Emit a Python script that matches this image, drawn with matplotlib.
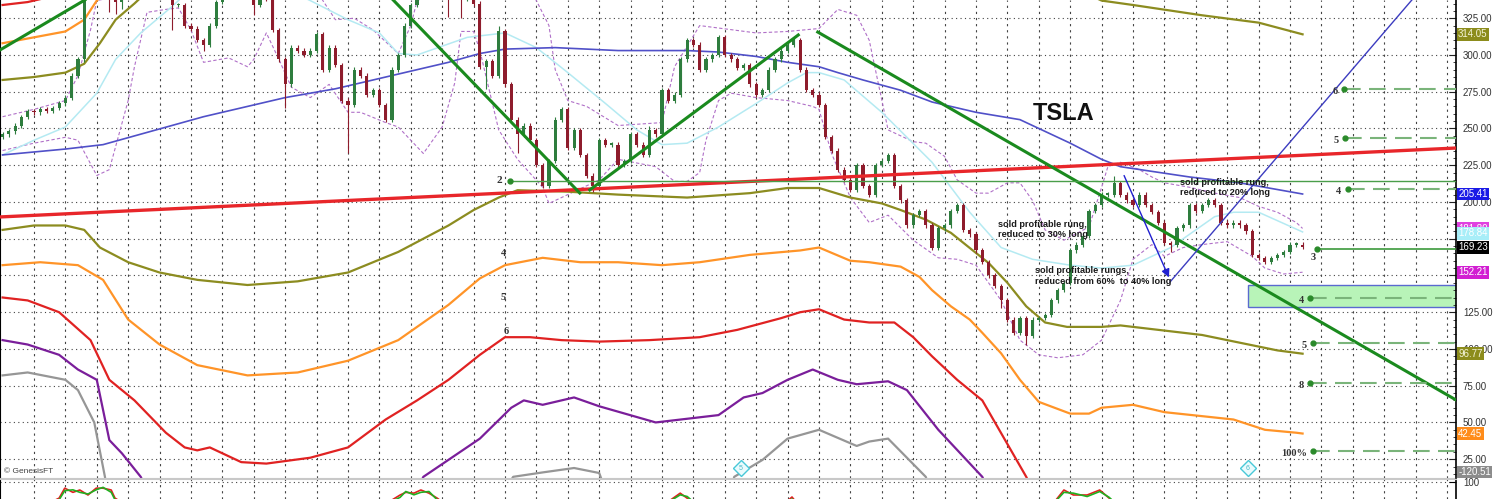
import matplotlib
matplotlib.use('Agg')
import matplotlib.pyplot as plt
import matplotlib.transforms as mtransforms
from matplotlib.patches import Rectangle
import numpy as np

plt.rcParams['font.family'] = ['Liberation Sans', 'DejaVu Sans']

# daily closes (bar index 0 .. 207)
closes = [
    246, 248, 252, 258, 262, 261, 263, 262, 264, 267,
    271, 286, 297, 342, 348, 352, 346, 338, 336, 340,
    345, 350, 352, 348, 350, 346, 342, 334, 334, 320,
    318, 310, 307, 320, 336, 342, 345, 347, 344, 346,
    334, 340, 338, 317, 297, 280, 305, 303, 300, 303,
    314, 290, 305, 293, 269, 266, 290, 286, 273, 276,
    266, 256, 290, 300, 320, 334, 342, 348, 352, 350,
    345, 340, 342, 338, 340, 335, 292, 296, 286, 316,
    280, 256, 246, 252, 242, 225, 211, 228, 256, 263,
    237, 249, 232, 218, 211, 242, 239, 239, 225, 228,
    246, 239, 232, 249, 246, 276, 269, 273, 297, 310,
    307, 290, 297, 300, 312, 300, 297, 291, 293, 280,
    273, 276, 290, 297, 303, 307, 310, 290, 276, 273,
    266, 244, 235, 222, 215, 208, 225, 211, 205, 225,
    228, 232, 211, 201, 184, 191, 194, 184, 169, 182,
    184, 194, 198, 181, 178, 167, 159, 150, 143, 133,
    120, 111, 121, 109, 120, 121, 123, 133, 140, 145,
    167, 171, 177, 194, 198, 205, 205, 213, 205, 201,
    198, 205, 198, 193, 186, 172, 171, 182, 184, 198,
    194, 198, 201, 198, 186, 184, 186, 184, 180, 164,
    162, 159, 162, 164, 166, 171, 171, 169.23,
]
first_open = 244
long_lows = {17: 329, 18: 328, 19: 331, 27: 317, 32: 303, 40: 327, 45: 264,
             55: 233, 71: 326, 73: 325, 77: 277, 82: 233, 94: 207, 159: 128,
             163: 103, 186: 166}
long_highs = {79: 320, 103: 252, 177: 218}

# indicator curves: (bar, value)
blue_ma = [(0, 232), (5, 234), (10, 236), (16, 239), (32, 258), (45, 271), (53, 277), (66, 290),
           (71, 295), (76, 301), (80, 304), (88, 305), (98, 303), (109, 303), (114, 302), (120, 299),
           (125, 295), (130, 292), (133, 288), (137, 283), (143, 276), (148, 268), (155, 261),
           (162, 256), (170, 240), (175, 229), (178, 224), (189, 217), (197, 213), (207, 205.41)]
cyan_ma = [(0, 232), (5, 242), (10, 251), (15, 274), (18, 297), (22, 315), (27, 333), (29, 341),
           (38, 352), (47, 341), (49, 337), (55, 324), (60, 315), (63, 301), (66, 300), (74, 312),
           (80, 315), (85, 305), (90, 288), (96, 267), (101, 249), (105, 239), (109, 240), (114, 251),
           (120, 267), (125, 281), (128, 288), (130, 288), (134, 283), (140, 261), (148, 227),
           (154, 193), (159, 169), (164, 161), (170, 157), (175, 155), (180, 157), (186, 169),
           (193, 190), (196, 193), (200, 193), (207, 179.6)]
upper_bb = [(0, 258), (5, 263), (10, 269), (12, 286), (14, 317), (15, 337), (30, 350), (50, 344),
            (51, 337), (53, 324), (56, 325), (59, 317), (63, 301), (65, 320), (66, 337), (75, 350),
            (84, 344), (85, 337), (87, 320), (88, 290), (90, 269), (93, 265), (98, 252), (105, 254),
            (107, 292), (111, 320), (120, 315), (125, 316), (130, 318), (133, 331), (136, 327),
            (138, 310), (141, 249), (145, 241), (147, 240), (150, 231), (152, 215), (155, 206),
            (157, 206), (160, 213), (162, 213), (164, 201), (166, 181), (169, 174), (173, 183),
            (175, 210), (176, 224), (178, 227), (181, 222), (183, 217), (185, 213), (189, 210),
            (193, 206), (197, 203), (200, 197), (203, 193), (206, 186), (207, 182)]
lower_bb = [(0, 235), (5, 240), (10, 244), (12, 242), (15, 218), (17, 222), (20, 269), (21, 292),
            (23, 329), (26, 331), (28, 332), (30, 317), (32, 295), (36, 298), (39, 292), (40, 297),
            (42, 315), (44, 297), (46, 278), (49, 271), (52, 280), (55, 261), (57, 261), (61, 254),
            (63, 251), (65, 242), (67, 233), (70, 251), (72, 281), (73, 316), (75, 316), (76, 303),
            (79, 249), (82, 229), (86, 210), (87, 199), (89, 203), (95, 215), (98, 229), (104, 224),
            (107, 214), (109, 214), (111, 220), (112, 242), (114, 269), (116, 274), (120, 271),
            (125, 269), (129, 265), (130, 263), (132, 233), (135, 203), (138, 186), (141, 191),
            (145, 174), (149, 162), (152, 161), (155, 157), (159, 133), (162, 106), (165, 96),
            (168, 94), (172, 96), (175, 106), (178, 133), (180, 161), (183, 171), (185, 163),
            (188, 169), (191, 171), (195, 173), (199, 163), (201, 155), (204, 151), (207, 152.21)]
olive_up_l = [(0, 283), (5, 285), (10, 288), (13, 294), (15.5, 308), (18, 324), (21, 335), (23, 343)]
olive_up_r = [(173, 341), (175, 337), (180, 334), (191, 327), (200, 322), (207, 314.05)]
olive_lo = [(0, 181), (5, 184), (10, 184), (13, 181), (15.5, 169), (20, 159), (25, 152), (31, 147),
            (39, 143.5), (47, 146), (55, 152), (63, 166), (71, 184), (75, 194.5), (79, 203), (82, 208),
            (90, 207), (98, 205), (109, 203), (119, 206), (125, 209.5), (130, 209.5), (135, 203),
            (140, 199), (143, 194.5), (147, 188), (151, 179), (154.5, 167), (157, 158.5), (160, 145),
            (163, 129), (166, 118), (169.5, 115), (175, 115), (178, 116), (191, 109.5), (203, 99),
            (207, 96.77)]
orange_up = [(0, 308), (5, 312), (10, 316), (13, 324), (15, 337), (16, 341)]
orange_lo = [(0, 157), (6, 159), (12, 157), (16, 147), (20, 120), (25, 103), (31, 89), (39, 82),
             (47, 84), (55, 92), (63, 106), (71, 130), (76, 148), (80, 157), (86, 162), (92, 159),
             (98, 159), (105, 157), (111, 159), (119, 164), (127, 167), (130, 169), (135, 160),
             (138, 159), (143, 156), (146, 149), (148, 140), (151, 129), (154, 120), (156, 111),
             (159, 97), (162, 79), (165, 64), (170, 56), (173, 56), (175, 60), (180, 62), (185, 57),
             (196, 52), (201, 45), (206, 43), (207, 42.45)]
red_up = [(0, 334), (4, 336), (8, 340)]
red_lo = [(0, 135), (4, 133), (9, 125), (14, 106), (17, 79), (21, 65), (26, 43), (29, 33), (31, 31),
          (33, 33), (38, 23), (42, 22), (49, 26), (55, 33), (61, 52), (66, 65), (71, 79), (76, 96),
          (80, 108), (84, 108), (89, 106), (95, 105), (103, 106), (111, 108), (117, 113), (124, 121),
          (127, 125), (130, 127), (134, 120), (138, 118), (142, 118), (145, 108), (148, 95), (152, 79),
          (156, 65), (163, 13), (164, 4)]
purple_l = [(0, 106), (4, 103), (9, 96), (12, 86), (15, 79), (17, 38), (19, 29), (22, 13), (23, 4)]
purple_r = [(66, 4), (67, 13), (76, 39), (81, 60), (83, 65), (86, 62), (89, 65), (91, 67), (95, 61),
            (104, 50), (114, 55), (118, 67), (121, 70), (125, 79), (129, 86), (133, 79), (136, 76),
            (141, 78), (144, 72), (149, 45), (156, 13), (157, 4)]
gray_l = [(0, 82), (4, 84), (10, 79), (12, 72), (14.6, 50), (16.3, 13), (16.6, 4)]
gray_s = [(80, 4), (81.3, 13), (86, 16), (91, 19), (95, 15.6), (96, 4)]
gray_b = [(116, 4), (116.5, 13), (121, 24.5), (125, 39), (130, 45), (136, 34), (138, 37), (141, 39),
          (147, 13), (147.7, 4)]

# drawn trend lines
red_trend = [(-0.41, 189.8), (231.43, 236.7)]
green_trends = [[(-0.41, 303.4), (13.1, 337.4)],
                [(62.2, 337.4), (91.9, 206.1)],
                [(93.5, 208.2), (126.7, 313.6)],
                [(129.8, 315.6), (231.43, 65.3)]]
support_2 = (80.8, 214.3)
blue_arrow = [(178.4, 219.7), (185.9, 146.9)]
blue_up = [(185.9, 145.6), (224.4, 337.4)]

# profit-taking rungs
rung_labels = ['6', '5', '4', '3', '4', '5', '8', '100%']
rung_x = [213.6, 213.8, 214.2, 209.3, 208.2, 208.7, 208.2, 208.7]
rung_v = [276.9, 243.5, 208.8, 168.0, 134.7, 104.0, 76.9, 30.6]
zone_box = (198.3, 128.5, 143.5)

# right-edge value tags
tag_text = ['314.05', '205.41', '181.80', '178.84', '169.23', '152.21', '96.77', '42.45', '-120.51']
tag_value = [314.05, 205.41, 181.8, 178.6, 169.23, 152.21, 96.77, 42.45, -120.51]
tag_face = ['#8c8c1c', '#1a1ae6', '#e040e0', '#a8eef8', '#000000', '#d21ed2', '#8c8c1c', '#ff8c1a', '#8c8c8c']

# lower oscillator
osc_x = [6, 9, 9.9, 11.2, 12.3, 13.6, 14.9, 16, 17.3, 17.9, 20.3, 60.1, 63.3, 64.2, 65.5, 66.6, 67.9,
         69.2, 71.2, 104.7, 107.9, 109, 111.1, 123.8, 125.7, 127, 166.8, 169, 170.5, 172.7, 174.7,
         176.2, 177.9]
osc_red = [70, 81, 93, 88, 90.8, 84.8, 93, 93, 90.8, 81, 70, 70, 84.8, 88, 87, 90.8, 87, 81, 70, 70,
           87, 81, 70, 70, 82.4, 70, 70, 90.8, 84.8, 84.8, 90.8, 81, 70]
osc_green = [70, 79, 90, 91, 88, 86, 91, 94, 88, 79, 70, 70, 82, 89, 85, 88, 89, 79, 70, 70, 85, 83,
             70, 70, 80, 70, 70, 88, 87, 83, 89, 82, 70]

XMIN, XMAX = -0.41, 231.43
YMIN, YMAX = 12.2, 337.4

fig = plt.figure(figsize=(15, 4.99), dpi=100)
ax = fig.add_axes([0, 21 / 499, 1456 / 1500, 478 / 499])
ax2 = fig.add_axes([0, 0, 1456 / 1500, 20 / 499])

ax.set_xlim(XMIN, XMAX)
ax.set_ylim(YMIN, YMAX)

hdot = (0, (1, 3))
vdash = (0, (2, 3.5))
for gx in range(5, 231, 5):
    ax.axvline(gx, color='#444444', lw=0.8, ls=vdash, zorder=0)
    ax2.axvline(gx, color='#444444', lw=0.8, ls=vdash, zorder=0)
for gy in range(25, 326, 25):
    ax.axhline(gy, color='#444444', lw=0.8, ls=hdot, zorder=0)


def curve(pts, **kw):
    xs, ys = zip(*pts)
    ax.plot(xs, ys, **kw)


for pts in (upper_bb, lower_bb):
    curve(pts, color='#b070c8', lw=0.8, ls=(0, (3, 2)), zorder=2)
curve(cyan_ma, color='#b4eaf2', lw=1.1, zorder=2)
curve(blue_ma, color='#5050c8', lw=1.2, zorder=2)
for pts in (olive_up_l, olive_up_r, olive_lo):
    curve(pts, color='#8c8c20', lw=1.6, zorder=2)
for pts in (orange_up, orange_lo):
    curve(pts, color='#ff9428', lw=1.6, zorder=2)
for pts in (red_up, red_lo):
    curve(pts, color='#e02222', lw=1.6, zorder=2)
for pts in (purple_l, purple_r):
    curve(pts, color='#7a1e9a', lw=1.6, zorder=2)
for pts in (gray_l, gray_s, gray_b):
    curve(pts, color='#969696', lw=1.6, zorder=2)

# candlesticks
c = np.array(closes, dtype=float)
o = np.r_[first_open, c[:-1]]
idx = np.arange(len(c))
top = np.maximum(o, c)
bot = np.minimum(o, c)
hi = np.array([long_highs.get(i, top[i] + 1.5) for i in idx])
lo = np.array([long_lows.get(i, bot[i] - 1.5) for i in idx])
cols = np.where(c >= o, '#2e7d3e', '#8e1c2c')
ax.vlines(idx, lo, hi, colors=cols, lw=0.8, zorder=3)
ax.bar(idx, np.maximum(top - bot, 0.8), bottom=bot, width=0.5, color=cols, zorder=3)

# trend lines
curve(red_trend, color='#e8262a', lw=2.4, zorder=4)
for seg in green_trends:
    curve(seg, color='#1a8a1e', lw=2.2, zorder=4)
ax.plot([support_2[0], XMAX], [support_2[1]] * 2, color='#4a9e4a', lw=1.0, zorder=4)
ax.plot(support_2[0], support_2[1], 'o', color='#2a8a2a', ms=3.5, zorder=5)
ax.text(support_2[0] - 1.2, support_2[1], '2', ha='right', va='center', fontsize=8,
        family='Liberation Serif', weight='bold', color='#333333')
for t, x, v in [('4', 79.7, 164.6), ('5', 79.7, 134.7), ('6', 80.2, 112.2)]:
    ax.text(x, v, t, ha='center', va='center', fontsize=7.5, family='Liberation Serif',
            weight='bold', color='#333333', zorder=5)

curve(blue_up, color='#3c3cc0', lw=1.0, zorder=4)
ax.annotate('', xy=blue_arrow[1], xytext=blue_arrow[0],
            arrowprops=dict(arrowstyle='-|>', color='#2020d0', lw=1.0, mutation_scale=12), zorder=5)

# target zone and rungs
ax.add_patch(Rectangle((zone_box[0], zone_box[1]), XMAX - zone_box[0], zone_box[2] - zone_box[1],
                       fc='#b8f4b8', ec='#5a6ad0', lw=1.0, zorder=1.5))
for lab, x, v in zip(rung_labels, rung_x, rung_v):
    ls = '-' if lab == '3' else (0, (8, 4))
    col = '#3c9a3c' if lab == '3' else '#7ab47a'
    ax.plot([x, XMAX], [v, v], color=col, lw=1.2 if lab == '3' else 1.5, ls=ls, zorder=4)
    ax.plot(x, v, 'o', color='#2a8a2a', ms=3.5, zorder=5)
    if lab == '3':
        ax.text(x - 0.6, v - 3, lab, ha='center', va='top', fontsize=7.5,
                family='Liberation Serif', weight='bold', color='#333333', zorder=5)
    else:
        ax.text(x - 1.0, v - 1.5, lab, ha='right', va='center', fontsize=7.5,
                family='Liberation Serif', weight='bold', color='#333333', zorder=5)

# diamonds
for x, t in [(117.6, '5'), (198.3, '6')]:
    ax.plot(x, 19.0, marker='D', ms=8, mfc='#eafbfd', mec='#48c8d8', mew=1.0, zorder=5)
    ax.text(x, 19.0, t, ha='center', va='center', fontsize=5, color='#48b8c8', zorder=6)

# annotations
ax.text(164.1, 260.5, 'TSLA', fontsize=17, weight='bold', ha='left', va='center', color='#111111', zorder=6)
note = dict(fontsize=6.6, weight='bold', color='#1a1a1a', ha='left', va='center', linespacing=1.25, zorder=6)
ax.text(158.5, 181.3, 'sold profitable rung,\nreduced to 30% long', **note)
ax.text(164.4, 149.6, 'sold profitable rungs,\nreduced from 60%  to 40% long', **note)
ax.text(187.5, 209.8, 'sold profitable rung,\nreduced to 20% long', **note)
ax.text(0.2, 16.3, '\u00a9 GenesisFT', fontsize=6, color='#444444', ha='left', va='center', zorder=6)

# axes styling: price scale on the right, labels hidden under the tags are left blank
ticks = np.arange(25, 326, 25)
ax.yaxis.tick_right()
ax.set_yticks(ticks)
ax.set_yticklabels(['' if v in (150, 175) else '%.2f' % v for v in ticks])
ax.set_yticks(np.arange(15, 336, 5), minor=True)
ax.tick_params(axis='y', which='major', direction='in', length=5, pad=5, labelsize=7,
               labelcolor='#333333', color='#222222')
ax.tick_params(axis='y', which='minor', direction='in', length=2.5, color='#222222')
ax.tick_params(axis='x', bottom=False, labelbottom=False)
ax.spines['top'].set_visible(False)
ax.spines['bottom'].set_color('#c8c8c8')
ax.spines['right'].set_linewidth(1.2)

trans = mtransforms.blended_transform_factory(ax.transAxes, ax.transData)
for t, v, fc in zip(tag_text, tag_value, tag_face):
    y = max(v, YMIN + 4.1)
    tc = '#f4f4d8' if fc == '#8c8c1c' else 'white'
    ax.text(1.0015, y, t, transform=trans, ha='left', va='center', fontsize=7, color=tc,
            bbox=dict(boxstyle='square,pad=0.15', fc=fc, ec='none'), clip_on=False, zorder=10)

# lower panel
ax2.set_xlim(XMIN, XMAX)
ax2.set_ylim(80, 104)
ax2.axhline(100, color='#444444', lw=0.8, ls=hdot, zorder=0)
ax2.plot(osc_x, osc_red, color='#e02020', lw=1.2, zorder=3)
ax2.plot(osc_x, osc_green, color='#20b020', lw=1.2, zorder=3)
ax2.yaxis.tick_right()
ax2.set_yticks([100])
ax2.set_yticklabels(['100'])
ax2.tick_params(axis='y', direction='in', length=5, pad=5, labelsize=7, labelcolor='#333333')
ax2.tick_params(axis='x', bottom=False, labelbottom=False)
ax2.spines['top'].set_color('#c8c8c8')
ax2.spines['bottom'].set_visible(False)
ax2.spines['right'].set_linewidth(1.2)

fig.savefig('out.png', dpi=100)
